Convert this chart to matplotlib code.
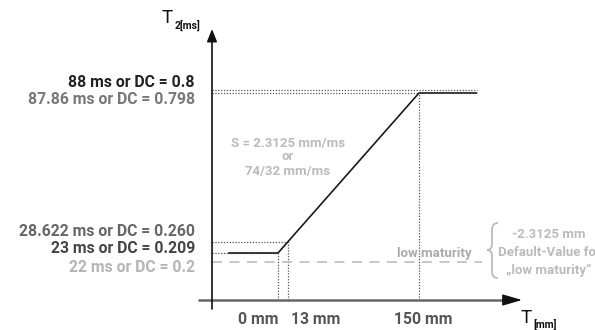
import numpy as np
import matplotlib
matplotlib.use('Agg')
import matplotlib.pyplot as plt
from matplotlib.path import Path
from matplotlib.patches import PathPatch
from matplotlib.transforms import Affine2D

plt.rcParams['font.family'] = ['Roboto', 'DejaVu Sans']

# ---------------- data ----------------
curve_mm = [-53, 0, 150, 212]
curve_ms = [23, 23, 87.86, 87.86]

x_ticks_mm = [0, 13, 150]
x_tick_labels = ['0 mm', '13 mm', '150 mm']
x_tick_curve_ms = [23, 28.622, 87.86]

y_levels_ms = [88, 87.86, 28.622, 23]
y_level_end_mm = [212, 150, 13, 0]
y_labels = ['88 ms or DC = 0.8', '87.86 ms or DC = 0.798',
            '28.622 ms or DC = 0.260', '23 ms or DC = 0.209']

default_ms = 22
default_end_mm = 217
default_label = '22 ms or DC = 0.2'
low_label = 'low maturity'

slope_lines = ['S = 2.3125 mm/ms', 'or', '74/32 mm/ms']
brace_lines = ['-2.3125 mm', 'Default-Value for', '„low maturity“']

# ---------------- layout (piecewise schematic scales) ----------------
W, H = 595, 330
X_KNOT_MM = [-300, 0, 13, 150, 500]
X_KNOT_PX = [-4, 278, 288, 419, 748]
Y_KNOT_MS = [-100, 22, 23, 28.622, 87.86, 88, 200]
Y_KNOT_PX = [-225, 68, 77, 88, 237, 240, 509]   # from bottom


def fwd_x(v):
    return np.interp(v, X_KNOT_MM, X_KNOT_PX)


def inv_x(p):
    return np.interp(p, X_KNOT_PX, X_KNOT_MM)


def fwd_y(v):
    return np.interp(v, Y_KNOT_MS, Y_KNOT_PX)


def inv_y(p):
    return np.interp(p, Y_KNOT_PX, Y_KNOT_MS)


fig = plt.figure(figsize=(W / 100, H / 100), dpi=100)
ax = fig.add_axes([0, 0, 1, 1])
ax.set_xscale('function', functions=(fwd_x, inv_x))
ax.set_yscale('function', functions=(fwd_y, inv_y))
ax.set_xlim(float(inv_x(0)), float(inv_x(W)))
ax.set_ylim(float(inv_y(0)), float(inv_y(H)))
ax.axis('off')

YAXIS_PX = 212
XAXIS_PX = 30
y_axis_mm = float(inv_x(YAXIS_PX))
x_axis_ms = float(inv_y(XAXIS_PX))

dot_kw = dict(color='#555555', lw=0.9, dashes=(1.0, 1.3))

# horizontal guides
for lev, end in zip(y_levels_ms, y_level_end_mm):
    ax.plot([y_axis_mm, end], [lev, lev], **dot_kw)
# vertical guides
for xm, ym in zip(x_ticks_mm, x_tick_curve_ms):
    ax.plot([xm, xm], [x_axis_ms, ym], **dot_kw)
# default dashed
ax.plot([y_axis_mm, default_end_mm], [default_ms, default_ms],
        color='#bdbdbd', lw=1.2, dashes=(6, 4.5))

# curve
ax.plot(curve_mm, curve_ms, color='#1a1a1a', lw=1.2, solid_capstyle='butt')

# axes
ax.plot([inv_x(198), inv_x(508)], [x_axis_ms, x_axis_ms], color='#666666', lw=1.8,
        solid_capstyle='butt')
ax.annotate('', xy=(522, XAXIS_PX), xytext=(503, XAXIS_PX), xycoords='figure pixels',
            arrowprops=dict(arrowstyle='-|>,head_length=1.2,head_width=0.35',
                            color='#111111', lw=1.0, mutation_scale=10,
                            shrinkA=0, shrinkB=0))
ax.annotate('', xy=(YAXIS_PX, 301), xytext=(YAXIS_PX, 21), xycoords='figure pixels',
            arrowprops=dict(arrowstyle='-|>,head_length=0.75,head_width=0.3',
                            color='#111111', lw=1.2, mutation_scale=10,
                            shrinkA=0, shrinkB=0))

LAB_FS = 11.3
LAB_W = 'bold'

# y labels
lab_off = [7, -7, 10, 4]
lab_col = ['#222222', '#777777', '#666666', '#444444']
for lev, txt, off, c in zip(y_levels_ms, y_labels, lab_off, lab_col):
    ax.annotate(txt, xy=(195, lev), xycoords=('figure pixels', 'data'),
                xytext=(0, off), textcoords='offset pixels', ha='right', va='center',
                fontsize=LAB_FS, fontweight=LAB_W, color=c)
ax.annotate(default_label, xy=(195, default_ms), xycoords=('figure pixels', 'data'),
            xytext=(0, -6), textcoords='offset pixels', ha='right', va='center',
            fontsize=LAB_FS, fontweight=LAB_W, color='#b5b5b5')

# x labels
x_ha = ['right', 'left', 'center']
x_dx = [0, 3, 4]
for xm, txt, ha, dx in zip(x_ticks_mm, x_tick_labels, x_ha, x_dx):
    ax.annotate(txt, xy=(xm, x_axis_ms), xycoords='data', xytext=(dx, -20),
                textcoords='offset pixels', ha=ha, va='center', fontsize=LAB_FS,
                fontweight=LAB_W, color='#555555')

# axis titles
ax.annotate('T', xy=(162, 312), xycoords='figure pixels', ha='left', va='center',
            fontsize=13.5, color='#111111')
ax.annotate('2[ms]', xy=(175, 305), xycoords='figure pixels', ha='left', va='center',
            fontsize=7.5, fontweight='bold', color='#111111')
ax.annotate('T', xy=(521, 12), xycoords='figure pixels', ha='left', va='center',
            fontsize=13.5, color='#111111')
ax.annotate('[mm]', xy=(533, 6), xycoords='figure pixels', ha='left', va='center',
            fontsize=7.5, fontweight='bold', color='#111111')

# slope annotation
for txt, yp in zip(slope_lines, [187, 173, 159]):
    ax.annotate(txt, xy=(288, yp), xycoords='figure pixels', ha='center', va='center',
                fontsize=9.5, fontweight='bold', color='#bbbbbb')

# low maturity
ax.annotate(low_label, xy=(150, default_ms), xycoords='data', xytext=(15, 9),
            textcoords='offset pixels', ha='center', va='center', fontsize=9.5,
            fontweight='bold', color='#aaaaaa')

# brace
verts = [(498, 107), (492, 107), (492, 100), (492, 86), (492, 80), (487, 80),
         (492, 80), (492, 74), (492, 58), (492, 52), (498, 52)]
codes = [Path.MOVETO, Path.CURVE3, Path.CURVE3, Path.LINETO, Path.CURVE3, Path.CURVE3,
         Path.CURVE3, Path.CURVE3, Path.LINETO, Path.CURVE3, Path.CURVE3]
tr = Affine2D().scale(1 / W, 1 / H) + fig.transFigure
fig.patches.append(PathPatch(Path(verts, codes), transform=tr, fill=False,
                             edgecolor='#bbbbbb', lw=1.3))
for txt, yp in zip(brace_lines, [95, 78, 60]):
    ax.annotate(txt, xy=(549, yp), xycoords='figure pixels', ha='center', va='center',
                fontsize=9.5, fontweight='bold', color='#bbbbbb')

fig.savefig('out.png', dpi=100)
